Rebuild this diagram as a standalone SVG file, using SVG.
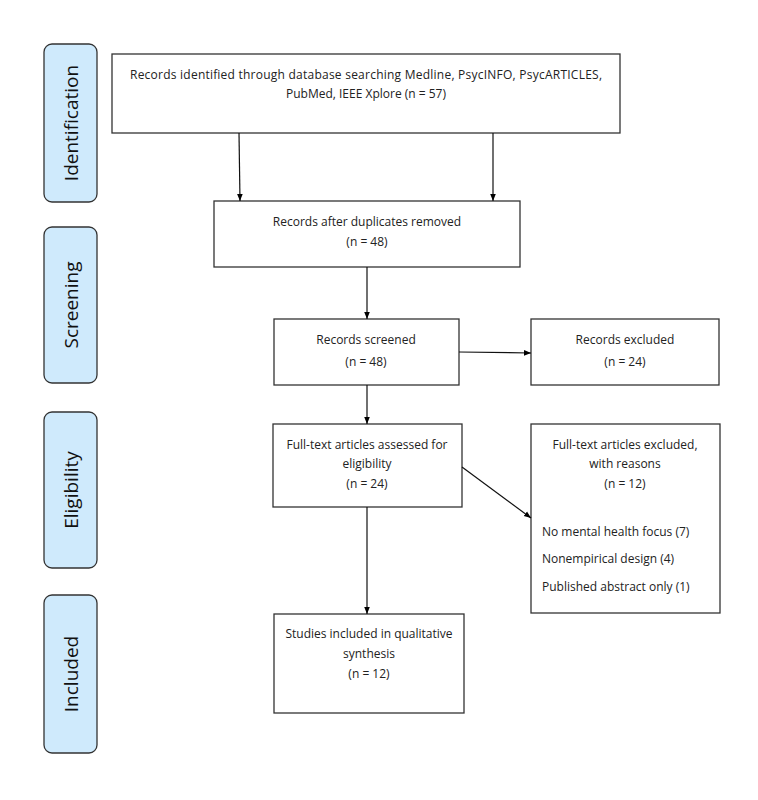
<svg xmlns="http://www.w3.org/2000/svg" width="758" height="800" viewBox="0 0 758 800">
<defs>
<marker id="ah" viewBox="0 0 10 10" refX="10" refY="5" markerWidth="7" markerHeight="7" markerUnits="userSpaceOnUse" orient="auto"><path d="M0,1 L10,5 L0,9 z" fill="#000"/></marker>
<style>
.side rect{fill:#cfeafc;stroke:#333;stroke-width:1.3}
.side text{font-family:"Open Sans","Liberation Sans",sans-serif;font-size:19px;fill:#111;text-anchor:middle}
.box rect{fill:#fff;stroke:#333;stroke-width:1.3}
.box text{font-family:"Open Sans","Liberation Sans",sans-serif;font-size:12px;fill:#222;text-anchor:middle}
.box text.l{text-anchor:start}
.conn line{stroke:#111;stroke-width:1.2;marker-end:url(#ah)}
</style>
</defs>
<rect width="758" height="800" fill="#fff"/>
<g id="side-identification" class="side"><rect x="44" y="44" width="53" height="158" rx="8"/><text transform="translate(78,123) rotate(-90)">Identification</text></g>
<g id="side-screening" class="side"><rect x="44" y="227" width="53" height="156" rx="8"/><text transform="translate(78,305) rotate(-90)">Screening</text></g>
<g id="side-eligibility" class="side"><rect x="44" y="412" width="53" height="156" rx="8"/><text transform="translate(78,490) rotate(-90)">Eligibility</text></g>
<g id="side-included" class="side"><rect x="44" y="595" width="53" height="158" rx="8"/><text transform="translate(78,674) rotate(-90)">Included</text></g>

<g id="n-identified" class="box"><rect x="112" y="54" width="508" height="79"/>
<text x="366" y="79" textLength="472" lengthAdjust="spacing">Records identified through database searching Medline, PsycINFO, PsycARTICLES,</text>
<text x="366" y="98">PubMed, IEEE Xplore (n = 57)</text></g>
<g id="n-dedup" class="box"><rect x="214" y="201" width="306" height="66"/>
<text x="367" y="226">Records after duplicates removed</text>
<text x="367" y="246">(n = 48)</text></g>
<g id="n-screened" class="box"><rect x="274" y="319" width="185" height="66"/>
<text x="366" y="344">Records screened</text>
<text x="366" y="366">(n = 48)</text></g>
<g id="n-excluded" class="box"><rect x="531" y="319" width="188" height="66"/>
<text x="625" y="344">Records excluded</text>
<text x="625" y="366">(n = 24)</text></g>
<g id="n-fulltext" class="box"><rect x="273" y="424" width="189" height="83"/>
<text x="367" y="449">Full-text articles assessed for</text>
<text x="367" y="468">eligibility</text>
<text x="367" y="488">(n = 24)</text></g>
<g id="n-ftexcluded" class="box"><rect x="531" y="424" width="189" height="189"/>
<text x="625" y="449">Full-text articles excluded,</text>
<text x="625" y="468">with reasons</text>
<text x="625" y="488">(n = 12)</text>
<text class="l" x="542" y="536">No mental health focus (7)</text>
<text class="l" x="542" y="563">Nonempirical design (4)</text>
<text class="l" x="542" y="591">Published abstract only (1)</text></g>
<g id="n-included" class="box"><rect x="274" y="614" width="190" height="99"/>
<text x="369" y="638">Studies included in qualitative</text>
<text x="369" y="658">synthesis</text>
<text x="369" y="678">(n = 12)</text></g>

<g id="connectors" class="conn">
<line x1="239" y1="133" x2="240" y2="201"/>
<line x1="493" y1="133" x2="493" y2="201"/>
<line x1="367" y1="267" x2="367" y2="319"/>
<line x1="459" y1="352" x2="531" y2="353"/>
<line x1="367" y1="385" x2="367" y2="424"/>
<line x1="462" y1="467" x2="531" y2="518"/>
<line x1="367" y1="507" x2="367" y2="614"/>
</g>
</svg>
